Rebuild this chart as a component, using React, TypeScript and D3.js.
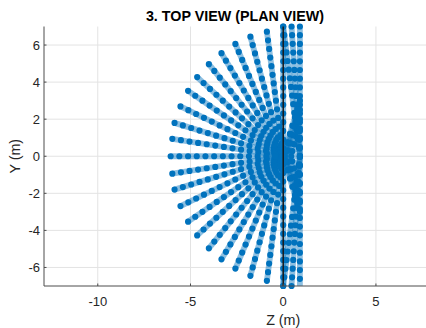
import * as d3 from "d3";

// ray end points (z, y) read for the upper half; the lower half mirrors them
const rayEndZ = [0, -0.88, -1.77, -2.58, -3.33, -4.01, -4.64, -5.13, -5.54, -5.86, -5.98, -6.07];
const rayEndY = [7.0, 6.72, 6.45, 6.06, 5.56, 4.97, 4.27, 3.53, 2.69, 1.8, 0.94, 0];

// right side: a vertical column, and a small fan between z=0 and the column
const columnZ = 0.9;
const columnY = [-7, 7];
const hubFanEndZ = [0, 0.45];
const originFanEndY = [0.5, 1.0, 1.5, 2.0, 2.5, 3.0];

const xTicks = [-10, -5, 0, 5];
const yTicks = [-6, -4, -2, 0, 2, 4, 6];
const xDomain = [-12.9, 7.7];
const yDomain = [-7, 7];

const W = 426;
const H = 328;
const blue = "#0072BD";

type Seg = { x1: number; y1: number; x2: number; y2: number };

export default function App() {
  const margin = { left: 44, top: 26.5, right: 0, bottom: 42 };
  const x = d3.scaleLinear().domain(xDomain).range([margin.left, W - margin.right]);
  const y = d3.scaleLinear().domain(yDomain).range([H - margin.bottom, margin.top]);

  // segments drawn from the far end toward the start so the end dot is exact
  const segs: Seg[] = [];
  rayEndZ.forEach((z, i) => {
    segs.push({ x1: z, y1: rayEndY[i], x2: 0, y2: 0 });
    if (rayEndY[i] !== 0) segs.push({ x1: z, y1: -rayEndY[i], x2: 0, y2: 0 });
  });
  segs.push({ x1: columnZ, y1: columnY[1], x2: columnZ, y2: columnY[0] });
  hubFanEndZ.forEach((z) => {
    segs.push({ x1: z, y1: 7, x2: columnZ, y2: 0 });
    segs.push({ x1: z, y1: -7, x2: columnZ, y2: 0 });
  });
  originFanEndY.forEach((v) => {
    segs.push({ x1: columnZ, y1: v, x2: 0, y2: 0 });
    segs.push({ x1: columnZ, y1: -v, x2: 0, y2: 0 });
  });
  segs.push({ x1: columnZ, y1: 0, x2: 0, y2: 0 });

  const line = (s: Seg) => `M${x(s.x1)},${y(s.y1)}L${x(s.x2)},${y(s.y2)}`;
  const font = "'Liberation Sans', Arial, Helvetica, sans-serif";
  const x0 = margin.left;
  const yb = H - margin.bottom;

  return (
    <svg width={W} height={H} style={{ position: "absolute", left: 0, top: 0 }} fontFamily={font}>
      <defs>
        <clipPath id="plot">
          <rect x={x0} y={margin.top - 4} width={W - x0} height={yb - margin.top + 8} />
        </clipPath>
      </defs>
      <rect width={W} height={H} fill="#fff" />

      {/* grid */}
      {xTicks.map((t) => (
        <line key={"gx" + t} x1={x(t)} x2={x(t)} y1={margin.top} y2={yb} stroke="#e3e3e3" />
      ))}
      {yTicks.map((t) => (
        <line key={"gy" + t} x1={x0} x2={W} y1={y(t)} y2={y(t)} stroke="#e3e3e3" />
      ))}

      {/* rays */}
      <g clipPath="url(#plot)">
        {segs.map((s, i) => (
          <path key={"u" + i} d={line(s)} stroke={blue} strokeOpacity={0.45} strokeWidth={5.8} fill="none" />
        ))}
        {segs.map((s, i) => (
          <path
            key={"d" + i}
            d={line(s)}
            stroke={blue}
            strokeWidth={6.2}
            strokeLinecap="round"
            strokeDasharray="0 8.7"
            fill="none"
          />
        ))}
        <line x1={x(0)} x2={x(0)} y1={y(7)} y2={y(-7)} stroke="#1a1a1a" strokeWidth={1.5} />
      </g>

      {/* axes */}
      <line x1={x0} x2={x0} y1={margin.top} y2={yb} stroke="#4d4d4d" />
      <line x1={x0} x2={W} y1={yb} y2={yb} stroke="#4d4d4d" />
      {xTicks.map((t) => (
        <g key={"tx" + t}>
          <line x1={x(t)} x2={x(t)} y1={yb} y2={yb - 2.5} stroke="#4d4d4d" />
          <text x={x(t)} y={306} textAnchor="middle" fontSize={13} fill="#262626">
            {t}
          </text>
        </g>
      ))}
      {yTicks.map((t) => (
        <g key={"ty" + t}>
          <line x1={x0} x2={x0 + 2.5} y1={y(t)} y2={y(t)} stroke="#4d4d4d" />
          <text x={40} y={y(t)} dy="0.35em" textAnchor="end" fontSize={13} fill="#262626">
            {t}
          </text>
        </g>
      ))}

      <text x={x(0)} y={325} textAnchor="middle" fontSize={14.3} fill="#262626">
        Z (m)
      </text>
      <text transform={`translate(19.5,${y(0)}) rotate(-90)`} textAnchor="middle" fontSize={14.3} fill="#262626">
        Y (m)
      </text>
      <text x={(x0 + W) / 2} y={20.5} textAnchor="middle" fontSize={14.3} fontWeight="bold" fill="#000">
        3. TOP VIEW (PLAN VIEW)
      </text>
    </svg>
  );
}
